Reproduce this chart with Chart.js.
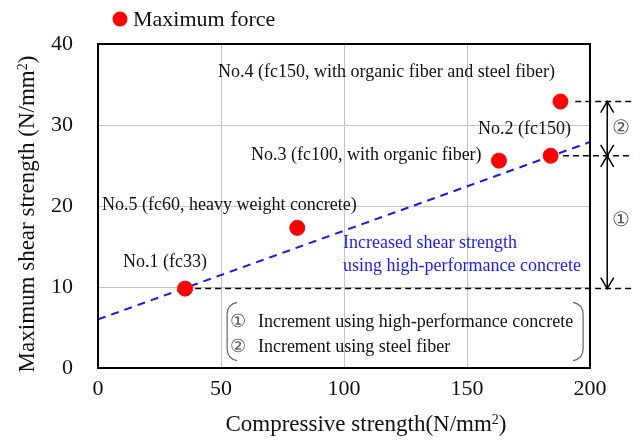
<!DOCTYPE html>
<html>
<head>
<meta charset="utf-8">
<script src="https://cdn.jsdelivr.net/npm/chart.js@4/dist/chart.umd.min.js"></script>
<style>
  html, body { margin: 0; padding: 0; background: #ffffff; }
  canvas { display: block; }
</style>
</head>
<body>
<canvas id="chart" width="633" height="442"></canvas>
<script>
// Measured specimens: compressive strength (N/mm2) vs maximum shear strength (N/mm2)
const specimenNames = ['No.1 (fc33)', 'No.2 (fc150)', 'No.3 (fc100, with organic fiber)',
                       'No.4 (fc150, with organic fiber and steel fiber)', 'No.5 (fc60, heavy weight concrete)'];
const compressive = [35.4, 184, 163, 188, 81];
const shear = [9.8, 26.2, 25.6, 32.9, 17.3];

// Trend of shear strength with concrete strength
const trendX = [0, 200];
const trendY = [6.0, 27.9];

// Horizontal reference levels (No.1, No.2, No.4) and where each begins
const levelY = [9.8, 26.2, 32.9];
const levelStartX = [39.5, 189, 194];
const levelEndX = 217.5;

// Increment arrows: ① from No.1 to No.2, ② from No.2 to No.4
const arrowX = 207;
const arrowFrom = [9.8, 26.2];
const arrowTo = [26.2, 32.9];
const arrowMarks = ['\u2460', '\u2461'];
const arrowMarkY = [18.2, 29.5];

// Axis ticks and titles (base text, superscript, closing text)
const xTicks = [0, 50, 100, 150, 200];
const yTicks = [0, 10, 20, 30, 40];
const xTitle = ['Compressive strength(N/mm', '2', ')'];
const yTitle = ['Maximum shear strength (N/mm', '2', ')'];

// Text annotations anchored at data coordinates
const noteText = ['No.4 (fc150, with organic fiber and steel fiber)', 'No.2 (fc150)',
                  'No.3 (fc100, with organic fiber)', 'No.5 (fc60, heavy weight concrete)', 'No.1 (fc33)'];
const noteX = [48.8, 154.5, 62.2, 1.6, 10.2];
const noteY = [36.5, 29.5, 26.3, 20.1, 13.1];
const trendNote = ['Increased shear strength', 'using high-performance concrete'];
const trendNoteX = 99.6;
const trendNoteY = [15.4, 12.6];
const keyMarks = ['\u2460', '\u2461'];
const keyText = ['Increment using high-performance concrete', 'Increment using steel fiber'];
const keyX = [53.5, 65];
const keyY = [5.7, 2.5];
const keyBoxX = [52.5, 197.2];
const keyBoxY = [8.1, 0.9];

const SERIF = '"Liberation Serif", "Times New Roman", serif';

const levelDatasets = levelY.map((y, i) => ({
  type: 'line',
  data: [{x: levelStartX[i], y: y}, {x: levelEndX, y: y}],
  borderColor: '#000000',
  borderWidth: 1.5,
  borderDash: [6, 4],
  pointRadius: 0,
  clip: false,
  order: 3
}));

const arrowDatasets = arrowFrom.map((y0, i) => ({
  type: 'line',
  data: [{x: arrowX, y: y0}, {x: arrowX, y: arrowTo[i]}],
  borderColor: '#000000',
  borderWidth: 1.5,
  pointRadius: 0,
  clip: false,
  order: 3
}));

// Centred text with a raised, smaller superscript part
function drawWithSup(ctx, parts, cx, cy, size) {
  const base = size + 'px ' + SERIF;
  const small = Math.round(size * 0.62) + 'px ' + SERIF;
  ctx.font = base;
  const w0 = ctx.measureText(parts[0]).width;
  const w2 = ctx.measureText(parts[2]).width;
  ctx.font = small;
  const w1 = ctx.measureText(parts[1]).width;
  let x = cx - (w0 + w1 + w2) / 2;
  ctx.textAlign = 'left';
  ctx.textBaseline = 'middle';
  ctx.font = base;
  ctx.fillText(parts[0], x, cy);
  x += w0;
  ctx.font = small;
  ctx.fillText(parts[1], x, cy - size * 0.22);
  x += w1;
  ctx.font = base;
  ctx.fillText(parts[2], x, cy);
}

const annotations = {
  id: 'annotations',
  afterDatasetsDraw(chart) {
    const ctx = chart.ctx;
    const xs = chart.scales.x, ys = chart.scales.y;
    const area = chart.chartArea;
    ctx.save();

    // plot frame
    ctx.strokeStyle = '#000000';
    ctx.lineWidth = 2;
    ctx.strokeRect(area.left, area.top, area.right - area.left, area.bottom - area.top);

    // arrowheads
    ctx.lineWidth = 1.5;
    arrowFrom.forEach((y0, i) => {
      const px = xs.getPixelForValue(arrowX);
      const pLow = ys.getPixelForValue(y0);
      const pHigh = ys.getPixelForValue(arrowTo[i]);
      ctx.beginPath();
      ctx.moveTo(px - 6.5, pHigh + 11); ctx.lineTo(px, pHigh); ctx.lineTo(px + 6.5, pHigh + 11);
      ctx.moveTo(px - 6.5, pLow - 11); ctx.lineTo(px, pLow); ctx.lineTo(px + 6.5, pLow - 11);
      ctx.stroke();
    });

    // circled increment marks
    ctx.fillStyle = '#555555';
    ctx.font = '20px ' + SERIF;
    ctx.textAlign = 'center';
    ctx.textBaseline = 'middle';
    arrowMarks.forEach((m, i) => {
      ctx.fillText(m, xs.getPixelForValue(arrowX) + 14, ys.getPixelForValue(arrowMarkY[i]));
    });

    // specimen notes
    ctx.fillStyle = '#111111';
    ctx.font = '18px ' + SERIF;
    ctx.textAlign = 'left';
    noteText.forEach((t, i) => {
      ctx.fillText(t, xs.getPixelForValue(noteX[i]), ys.getPixelForValue(noteY[i]));
    });

    // trend note
    ctx.fillStyle = '#1a1aff';
    trendNote.forEach((t, i) => {
      ctx.fillText(t, xs.getPixelForValue(trendNoteX), ys.getPixelForValue(trendNoteY[i]));
    });

    // key box brackets
    const bl = xs.getPixelForValue(keyBoxX[0]), br = xs.getPixelForValue(keyBoxX[1]);
    const bt = ys.getPixelForValue(keyBoxY[0]), bb = ys.getPixelForValue(keyBoxY[1]);
    ctx.strokeStyle = '#666666';
    ctx.lineWidth = 1.2;
    ctx.beginPath();
    ctx.moveTo(bl + 10, bt); ctx.quadraticCurveTo(bl, bt + 2, bl, bt + 12);
    ctx.lineTo(bl, bb - 12); ctx.quadraticCurveTo(bl, bb - 2, bl + 10, bb);
    ctx.moveTo(br - 10, bt); ctx.quadraticCurveTo(br, bt + 2, br, bt + 12);
    ctx.lineTo(br, bb - 12); ctx.quadraticCurveTo(br, bb - 2, br - 10, bb);
    ctx.stroke();

    // key entries
    keyText.forEach((t, i) => {
      const y = ys.getPixelForValue(keyY[i]);
      ctx.fillStyle = '#555555';
      ctx.font = '18px ' + SERIF;
      ctx.fillText(keyMarks[i], xs.getPixelForValue(keyX[0]), y);
      ctx.fillStyle = '#111111';
      ctx.fillText(t, xs.getPixelForValue(keyX[1]), y);
    });

    // axis titles
    ctx.fillStyle = '#111111';
    drawWithSup(ctx, xTitle, 366, 425, 23);
    ctx.save();
    ctx.translate(28, 214);
    ctx.rotate(-Math.PI / 2);
    drawWithSup(ctx, yTitle, 0, 0, 23);
    ctx.restore();

    // legend
    const ds = chart.data.datasets[0];
    ctx.fillStyle = ds.backgroundColor;
    ctx.beginPath();
    ctx.arc(120, 19, 7.5, 0, Math.PI * 2);
    ctx.fill();
    ctx.fillStyle = '#111111';
    ctx.font = '22px ' + SERIF;
    ctx.textAlign = 'left';
    ctx.textBaseline = 'middle';
    ctx.fillText(ds.label, 133, 20);

    ctx.restore();
  }
};

new Chart(document.getElementById('chart'), {
  type: 'scatter',
  data: {
    datasets: [
      {
        label: 'Maximum force',
        data: compressive.map((x, i) => ({x: x, y: shear[i], name: specimenNames[i]})),
        backgroundColor: '#ff0000',
        borderColor: '#ff0000',
        pointRadius: 7.5,
        pointHoverRadius: 7.5,
        order: 1
      },
      {
        type: 'line',
        label: 'Trend',
        data: trendX.map((x, i) => ({x: x, y: trendY[i]})),
        borderColor: '#1a1aee',
        borderWidth: 2,
        borderDash: [8, 6],
        pointRadius: 0,
        order: 2
      },
      ...levelDatasets,
      ...arrowDatasets
    ]
  },
  options: {
    responsive: false,
    devicePixelRatio: 1,
    animation: false,
    layout: { padding: { top: 44, right: 43, left: 0, bottom: 0 } },
    plugins: {
      legend: { display: false },
      tooltip: { enabled: false }
    },
    scales: {
      x: {
        type: 'linear',
        min: 0,
        max: 200,
        afterBuildTicks: s => { s.ticks = xTicks.map(v => ({value: v})); },
        afterFit: s => { s.height = 74; },
        grid: { color: '#c4c4c4', lineWidth: 1, drawTicks: false },
        border: { display: false },
        ticks: { color: '#111111', font: { family: SERIF, size: 22 }, padding: 8, maxRotation: 0 },
        title: { display: false }
      },
      y: {
        type: 'linear',
        min: 0,
        max: 40,
        afterBuildTicks: s => { s.ticks = yTicks.map(v => ({value: v})); },
        afterFit: s => { s.width = 98; },
        grid: { color: '#c4c4c4', lineWidth: 1, drawTicks: false },
        border: { display: false },
        ticks: { color: '#111111', font: { family: SERIF, size: 22 }, padding: 25 },
        title: { display: false }
      }
    }
  },
  plugins: [annotations]
});
</script>
</body>
</html>
